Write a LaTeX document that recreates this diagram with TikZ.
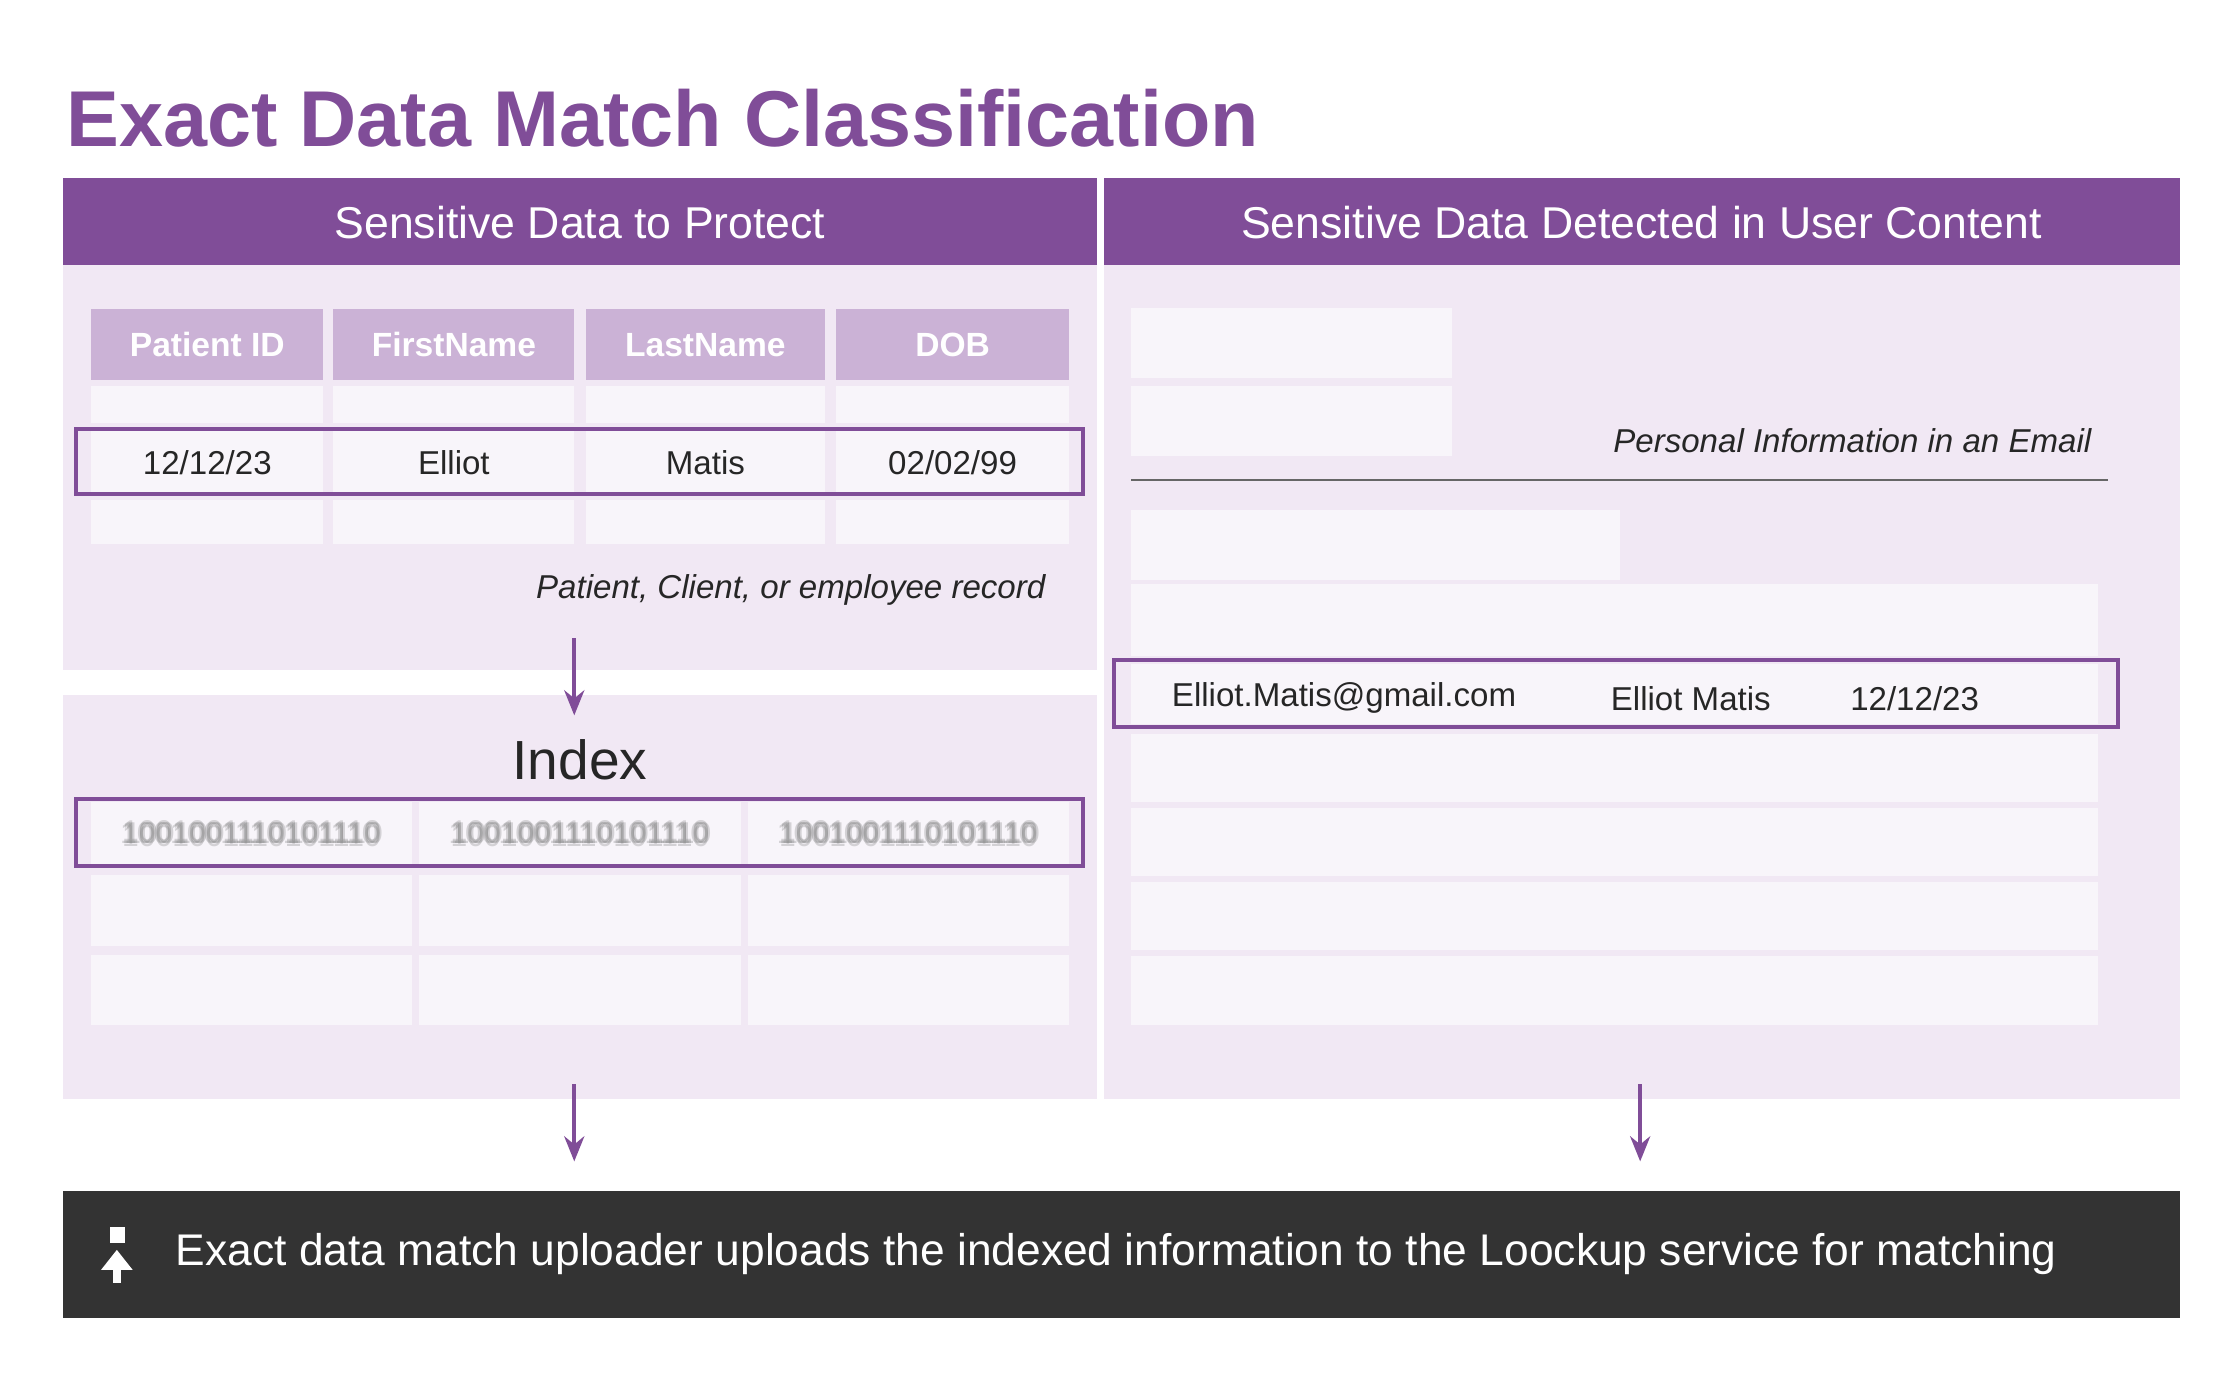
\documentclass[tikz,border=0pt]{standalone}
\usepackage{fontspec}
\setmainfont{Liberation Sans}
\usetikzlibrary{positioning,arrows.meta,calc}
\definecolor{edmpurple}{RGB}{128,77,152}
\definecolor{panel}{RGB}{241,232,244}
\definecolor{cell}{RGB}{248,245,250}
\definecolor{headcell}{RGB}{203,178,214}
\definecolor{darkbar}{RGB}{51,51,51}
\definecolor{txt}{RGB}{38,38,38}

\begin{document}
\begin{tikzpicture}[x=0.01cm,y=-0.01cm,
    colhead/.style={white,font=\fontsize{6.7}{8}\selectfont\bfseries},
    celltext/.style={txt,font=\fontsize{6.6}{8}\selectfont},
    caption/.style={txt,font=\fontsize{6.6}{8}\selectfont\itshape},
    hilite/.style={draw=edmpurple,line width=0.8pt},
    flow/.style={-{Stealth[length=5pt,width=4pt]},edmpurple,line width=0.8pt}]
    \useasboundingbox[fill=white] (0,0) rectangle (1560,975);

    % Titre
    \node[anchor=base west,inner sep=0,edmpurple,font=\fontsize{15.8}{19}\selectfont\bfseries] (title) at (46,103) {Exact Data Match Classification};

    % Panneaux
    \fill[edmpurple] (44,125) rectangle (770,186);
    \fill[edmpurple] (775,125) rectangle (1530,186);
    \fill[panel] (44,186) rectangle (770,470);
    \fill[panel] (44,488) rectangle (770,771);
    \fill[panel] (775,186) rectangle (1530,771);
    \node[white,font=\fontsize{8.9}{11}\selectfont] (lefthead) at (407,156) {Sensitive Data to Protect};
    \node[white,font=\fontsize{8.9}{11}\selectfont] (righthead) at (1152,156) {Sensitive Data Detected in User Content};

    % Table des enregistrements
    \foreach \xa/\xb/\lbl/\val in {64/227/Patient ID/12\slash 12\slash 23, 234/403/FirstName/Elliot, 411/579/LastName/Matis, 587/750/DOB/02\slash 02\slash 99}{
        \fill[headcell] (\xa,217) rectangle (\xb,267);
        \fill[cell] (\xa,271) rectangle (\xb,297);
        \fill[cell] (\xa,302) rectangle (\xb,346);
        \fill[cell] (\xa,351) rectangle (\xb,382);
        \node[colhead] at ({(\xa+\xb)/2},242) {\lbl};
        \node[celltext] at ({(\xa+\xb)/2},325) {\val};
    }
    \draw[hilite] (53,301) rectangle (760,347);
    \node[caption,anchor=east] (reccap) at (746,414) {Patient, Client, or employee record};

    % Index
    \coordinate (idxtop) at (403,448);
    \coordinate (idxin) at (403,502);
    \node[txt,font=\fontsize{11}{13}\selectfont] (index) at (407,533) {Index};
    \foreach \xa/\xb in {64/289, 294/520, 525/750}{
        \fill[cell] (\xa,563) rectangle (\xb,608);
        \fill[cell] (\xa,614) rectangle (\xb,664);
        \fill[cell] (\xa,670) rectangle (\xb,719);
        \foreach \dx/\dy in {-1.5/0,1.5/0,0/-1.5,0/1.5,0/0}
            \node[gray,opacity=0.3,font=\fontsize{6}{8}\selectfont] at ({(\xa+\xb)/2+\dx},{585+\dy}) {1001001110101110};
    }
    \draw[hilite] (53,561) rectangle (760,608);
    \draw[flow] (idxtop) -- (idxin);

    % Contenu utilisateur
    \fill[cell] (794,216) rectangle (1019,265);
    \fill[cell] (794,271) rectangle (1019,320);
    \node[caption,anchor=east] (mailcap) at (1480,309) {Personal Information in an Email};
    \draw[gray!80!black,line width=0.5pt] (794,337) -- (1479,337);
    \fill[cell] (794,358) rectangle (1137,407);
    \fill[cell] (794,410) rectangle (1472,460);
    \fill[cell] (794,466) rectangle (1472,508);
    \foreach \ya/\yb in {515/563, 567/615, 619/667, 671/719}
        \fill[cell] (794,\ya) rectangle (1472,\yb);
    \draw[hilite] (782,463) rectangle (1486,510);
    \node[celltext,anchor=west] (mail) at (810,490) {Elliot.Matis@gmail.com};
    \node[celltext,anchor=west] (name) at (1118,490) {Elliot Matis};
    \node[celltext,anchor=west] (date) at (1286,490) {12/12/23};

    % Barre du bas
    \fill[darkbar] (44,836) rectangle (1530,925);
    \node[white,anchor=west,font=\fontsize{8.85}{11}\selectfont] (upload) at (111,880) {Exact data match uploader uploads the indexed information to the Loockup service for matching};
    \fill[white] (77,861) rectangle (88,872);
    \draw[white,line width=1.5pt,-{Triangle[length=4pt,width=6pt]}] (82,900) -- (82,877);

    % Flèches
    \coordinate (leftout) at (403,761);
    \coordinate (leftin) at (403,815);
    \coordinate (rightout) at (1151,761);
    \coordinate (rightin) at (1151,815);
    \draw[flow] (leftout) -- (leftin);
    \draw[flow] (rightout) -- (rightin);
\end{tikzpicture}
\end{document}
